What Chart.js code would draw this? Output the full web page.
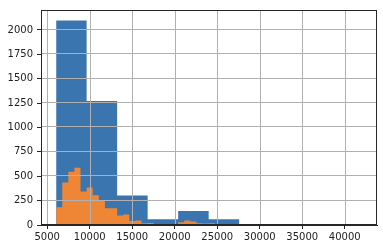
<!DOCTYPE HTML>
<html>
	<head>
		<meta charset="utf-8" />
		<title>Histogram</title>
		<script src="https://cdn.jsdelivr.net/npm/chart.js@4.4.0/dist/chart.umd.min.js"></script>
		<style>
			body { margin: 0; background: #fff; }
			#wrap { width: 383px; height: 249px; }
		</style>
	</head>
	<body>
		<div id="wrap"><canvas id="hist" width="383" height="249"></canvas></div>
	</body>
</html>

<script>
// histogram values
var dataRange = [6050, 41940];
var blueCounts = [2097, 1273, 303, 60, 143, 58, 11, 0, 0, 8];
var orangeCounts = [
	182, 436, 547, 588, 344, 385, 304, 248, 172, 172,
	98, 108, 40, 45, 18, 20, 10, 10, 10, 10,
	28, 45, 36, 18, 16, 18, 10, 10, 10, 10,
	6, 0, 5, 0, 0, 0, 0, 0, 0, 0,
	0, 0, 0, 0, 0, 0, 0, 0, 0, 8
];
var xTicks = [5000, 10000, 15000, 20000, 25000, 30000, 35000, 40000];
var yTicks = [0, 250, 500, 750, 1000, 1250, 1500, 1750, 2000];

// outline points for a stepped fill: bin left edges + closing point
function stepPoints(counts)
{
	var lo = dataRange[0], hi = dataRange[1];
	var w = (hi - lo) / counts.length;
	var pts = [{x: lo, y: 0}];
	for (var i = 0; i < counts.length; i++)
	{
		pts.push({x: lo + i * w, y: counts[i]});
	}
	pts.push({x: hi, y: 0});
	return pts;
}

function histSet(counts, color)
{
	return {
		data: stepPoints(counts),
		stepped: true,
		fill: 'origin',
		backgroundColor: color,
		borderColor: 'rgba(0,0,0,0)',
		borderWidth: 0,
		pointRadius: 0
	};
}

// matplotlib draws the grid and the frame over the patches
var gridOnTop = {
	id: 'gridOnTop',
	afterDatasetsDraw: function(chart)
	{
		var ctx = chart.ctx, a = chart.chartArea;
		var sx = chart.scales.x, sy = chart.scales.y;
		ctx.save();
		ctx.strokeStyle = '#b0b0b0';
		ctx.lineWidth = 1;
		xTicks.forEach(function(v) {
			var px = Math.round(sx.getPixelForValue(v)) + 0.5;
			ctx.beginPath(); ctx.moveTo(px, a.top); ctx.lineTo(px, a.bottom); ctx.stroke();
		});
		yTicks.forEach(function(v) {
			var py = Math.round(sy.getPixelForValue(v)) - 0.5;
			ctx.beginPath(); ctx.moveTo(a.left, py); ctx.lineTo(a.right, py); ctx.stroke();
		});
		ctx.strokeStyle = '#262626';
		ctx.strokeRect(a.left + 0.5, a.top + 0.5, a.right - a.left - 1, a.bottom - a.top - 1);
		ctx.restore();
	}
};

var tickFont = {family: 'DejaVu Sans', size: 10};

new Chart(document.getElementById('hist'), {
	type: 'line',
	data: {
		datasets: [
			histSet(orangeCounts, '#ef8636'),
			histSet(blueCounts, '#3b75af')
		]
	},
	options: {
		responsive: false,
		animation: false,
		layout: {padding: {left: 0, top: 6, right: 6, bottom: 0}},
		plugins: {legend: {display: false}, tooltip: {enabled: false}},
		scales: {
			x: {
				type: 'linear',
				min: 4270,
				max: 43800,
				afterBuildTicks: function(s) { s.ticks = xTicks.map(function(v) { return {value: v}; }); },
				afterFit: function(s) { s.height = 24; },
				ticks: {font: tickFont, color: '#222', padding: 2, maxRotation: 0, autoSkip: false,
					callback: function(v) { return String(v); }},
				grid: {drawOnChartArea: false, color: '#262626', tickLength: 4},
				border: {color: '#262626'}
			},
			y: {
				min: 0,
				max: 2205,
				afterBuildTicks: function(s) { s.ticks = yTicks.map(function(v) { return {value: v}; }); },
				afterFit: function(s) { s.width = 41; },
				ticks: {font: tickFont, color: '#222', padding: 4, autoSkip: false,
					callback: function(v) { return String(v); }},
				grid: {drawOnChartArea: false, color: '#262626', tickLength: 4},
				border: {color: '#262626'}
			}
		}
	},
	plugins: [gridOnTop]
});
</script>
